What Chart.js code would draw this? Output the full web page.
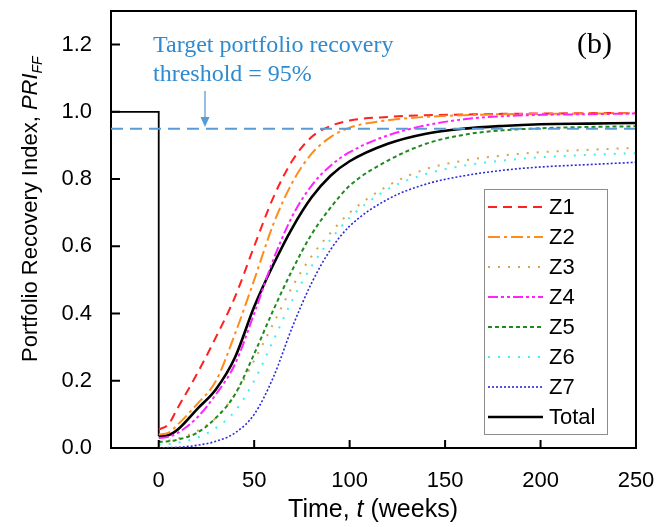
<!DOCTYPE html>
<html lang="en">
<head>
<meta charset="UTF-8">
<title>Portfolio Recovery Index</title>
<script src="https://cdn.jsdelivr.net/npm/chart.js"></script>
<style>
  body { margin: 0; background: #fff; }
  canvas { display: block; }
</style>
</head>
<body>
<canvas id="pri" width="659" height="527"></canvas>
<script>
// time (weeks) after the event
const times = [0, 5, 10, 20, 30, 40, 50, 60, 70, 80, 90, 100, 120, 140, 160, 180, 200, 225, 250];

const z1 = [0.055, 0.07, 0.12, 0.22, 0.33, 0.45, 0.60, 0.745, 0.855, 0.925, 0.958, 0.974, 0.985, 0.99, 0.992, 0.994, 0.995, 0.996, 0.997];
const z2 = [0.04, 0.045, 0.07, 0.13, 0.20, 0.34, 0.50, 0.665, 0.79, 0.875, 0.925, 0.953, 0.975, 0.985, 0.99, 0.993, 0.994, 0.995, 0.996];
const z3 = [0.02, 0.022, 0.028, 0.05, 0.09, 0.16, 0.26, 0.37, 0.48, 0.57, 0.64, 0.70, 0.78, 0.83, 0.855, 0.87, 0.88, 0.887, 0.893];
const z4 = [0.03, 0.033, 0.045, 0.09, 0.16, 0.25, 0.40, 0.56, 0.69, 0.78, 0.84, 0.88, 0.93, 0.96, 0.978, 0.987, 0.991, 0.993, 0.995];
const z5 = [0.018, 0.02, 0.025, 0.045, 0.09, 0.16, 0.28, 0.41, 0.53, 0.635, 0.715, 0.78, 0.855, 0.905, 0.932, 0.945, 0.951, 0.955, 0.957];
const z6 = [0.01, 0.012, 0.016, 0.03, 0.06, 0.11, 0.20, 0.32, 0.44, 0.54, 0.62, 0.685, 0.77, 0.815, 0.84, 0.855, 0.865, 0.872, 0.877];
const z7 = [0.0, 0.001, 0.002, 0.008, 0.02, 0.045, 0.10, 0.21, 0.36, 0.49, 0.59, 0.66, 0.74, 0.785, 0.81, 0.826, 0.836, 0.843, 0.85];
const total = [0.035, 0.038, 0.055, 0.115, 0.175, 0.27, 0.42, 0.545, 0.655, 0.745, 0.81, 0.853, 0.905, 0.935, 0.95, 0.958, 0.963, 0.965, 0.967];

// before the event the portfolio is fully functional, then drops at t = 0
const stepTimes = [-25, 0, 0];
const stepValues = [1, 1, 0.035];

const thresholdTimes = [-25, 250];
const thresholdValues = [0.95, 0.95];

const xTicks = [0, 50, 100, 150, 200, 250];
const yTicks = [0, 0.2, 0.4, 0.6, 0.8, 1.0, 1.2];

const pts = (xs, ys) => xs.map((x, i) => ({ x: x, y: ys[i] }));

function curve(label, values, color, dash, width) {
    return {
        label: label,
        data: pts(times, values),
        borderColor: color,
        borderDash: dash,
        borderWidth: width,
        pointRadius: 0,
        fill: false,
        cubicInterpolationMode: 'monotone',
        inLegend: true
    };
}

const datasets = [
    {
        label: 'threshold',
        data: pts(thresholdTimes, thresholdValues),
        borderColor: '#5b9bd5',
        borderDash: [12, 7],
        borderWidth: 2,
        pointRadius: 0,
        inLegend: false
    },
    curve('Z7', z7, '#2b2bd9', [2, 2], 1.6),
    curve('Z6', z6, '#3ff0f0', [2, 8], 2),
    curve('Z5', z5, '#1f8a1f', [4, 3], 2),
    curve('Z3', z3, '#d2a650', [2, 8], 2),
    curve('Z4', z4, '#ff22ff', [10, 3, 3, 3, 3, 3], 2),
    curve('Z2', z2, '#ff8c1a', [12, 4, 3, 4], 2),
    curve('Z1', z1, '#ff2020', [9, 6], 2),
    curve('Total', total, '#000000', [], 2.6),
    {
        label: 'step',
        data: pts(stepTimes, stepValues),
        borderColor: '#000000',
        borderWidth: 1.8,
        pointRadius: 0,
        tension: 0,
        inLegend: false
    }
];

const legendOrder = ['Z1', 'Z2', 'Z3', 'Z4', 'Z5', 'Z6', 'Z7', 'Total'];

const SANS = '"Liberation Sans", Arial, sans-serif';
const SERIF = '"Liberation Serif", "Times New Roman", serif';

const extras = {
    id: 'extras',
    afterDraw(chart) {
        const ctx = chart.ctx;
        const a = chart.chartArea;
        const xs = chart.scales.x, ys = chart.scales.y;
        ctx.save();

        // frame top / right
        ctx.strokeStyle = '#000';
        ctx.lineWidth = 2;
        ctx.beginPath();
        ctx.moveTo(a.left, a.top);
        ctx.lineTo(a.right, a.top);
        ctx.lineTo(a.right, a.bottom);
        ctx.stroke();

        // inward ticks
        ctx.beginPath();
        xTicks.forEach(v => {
            const px = xs.getPixelForValue(v);
            ctx.moveTo(px, a.bottom);
            ctx.lineTo(px, a.bottom - 8);
        });
        yTicks.forEach(v => {
            const py = ys.getPixelForValue(v);
            ctx.moveTo(a.left, py);
            ctx.lineTo(a.left + 9, py);
        });
        ctx.stroke();

        // axis titles
        ctx.fillStyle = '#000';
        ctx.textBaseline = 'alphabetic';
        ctx.textAlign = 'left';
        const parts = [['Time, ', ''], ['t', 'italic '], [' (weeks)', '']];
        let wsum = 0;
        parts.forEach(p => { ctx.font = p[1] + '25px ' + SANS; wsum += ctx.measureText(p[0]).width; });
        let x0 = 373 - wsum / 2;
        parts.forEach(p => {
            ctx.font = p[1] + '25px ' + SANS;
            ctx.fillText(p[0], x0, 517);
            x0 += ctx.measureText(p[0]).width;
        });

        ctx.save();
        ctx.translate(37, 362);
        ctx.rotate(-Math.PI / 2);
        ctx.font = '22px ' + SANS;
        const q1 = 'Portfolio Recovery Index, ';
        ctx.fillText(q1, 0, 0);
        let off = ctx.measureText(q1).width;
        ctx.font = 'italic 22px ' + SANS;
        ctx.fillText('PRI', off, 0);
        off += ctx.measureText('PRI').width;
        ctx.font = 'italic 14px ' + SANS;
        ctx.fillText('FF', off, 5);
        ctx.restore();

        // annotation
        ctx.fillStyle = '#2f8ad0';
        ctx.font = '24px ' + SERIF;
        ctx.fillText('Target portfolio recovery', 153, 52);
        ctx.fillText('threshold = 95%', 153, 81);
        ctx.strokeStyle = '#5b9bd5';
        ctx.fillStyle = '#5b9bd5';
        ctx.lineWidth = 1.3;
        ctx.beginPath();
        ctx.moveTo(205, 91);
        ctx.lineTo(205, 120);
        ctx.stroke();
        ctx.beginPath();
        ctx.moveTo(200.5, 117);
        ctx.lineTo(209.5, 117);
        ctx.lineTo(205, 127);
        ctx.closePath();
        ctx.fill();

        // panel label
        ctx.fillStyle = '#000';
        ctx.font = '30px ' + SERIF;
        ctx.fillText('(b)', 577, 53);

        // legend
        const lx = 484, ly = 189, lw = 123, lh = 245;
        ctx.fillStyle = '#fff';
        ctx.fillRect(lx, ly, lw, lh);
        ctx.strokeStyle = '#8c8c8c';
        ctx.lineWidth = 1;
        ctx.strokeRect(lx + 0.5, ly + 0.5, lw, lh);
        ctx.font = '22px ' + SANS;
        ctx.textBaseline = 'middle';
        legendOrder.forEach((name, i) => {
            const ds = chart.data.datasets.find(d => d.label === name && d.inLegend);
            const cy = 207 + i * 30;
            ctx.strokeStyle = ds.borderColor;
            ctx.lineWidth = ds.borderWidth;
            ctx.setLineDash(ds.borderDash || []);
            ctx.beginPath();
            ctx.moveTo(488, cy);
            ctx.lineTo(543, cy);
            ctx.stroke();
            ctx.setLineDash([]);
            ctx.fillStyle = '#000';
            ctx.fillText(name, 549, cy + 1);
        });

        ctx.restore();
    }
};

new Chart(document.getElementById('pri'), {
    type: 'line',
    data: { datasets: datasets },
    options: {
        responsive: false,
        animation: false,
        devicePixelRatio: 1,
        layout: { padding: { left: 0, top: 11, right: 23, bottom: 0 } },
        plugins: {
            legend: { display: false },
            tooltip: { enabled: false }
        },
        scales: {
            x: {
                type: 'linear',
                min: -25,
                max: 250,
                afterBuildTicks: s => { s.ticks = xTicks.map(v => ({ value: v })); },
                afterFit: s => { s.height = 79; s.paddingLeft = 0; s.paddingRight = 0; },
                grid: { display: false },
                border: { display: true, color: '#000', width: 2 },
                ticks: {
                    color: '#000',
                    padding: 12,
                    maxRotation: 0,
                    font: { family: SANS, size: 22 }
                }
            },
            y: {
                type: 'linear',
                min: 0,
                max: 1.3,
                afterBuildTicks: s => { s.ticks = yTicks.map(v => ({ value: v })); },
                afterFit: s => { s.width = 111; s.paddingTop = 0; s.paddingBottom = 0; },
                grid: { display: false },
                border: { display: true, color: '#000', width: 2 },
                ticks: {
                    color: '#000',
                    padding: 11,
                    callback: v => v.toFixed(1),
                    font: { family: SANS, size: 22 }
                }
            }
        }
    },
    plugins: [extras]
});
</script>
</body>
</html>
